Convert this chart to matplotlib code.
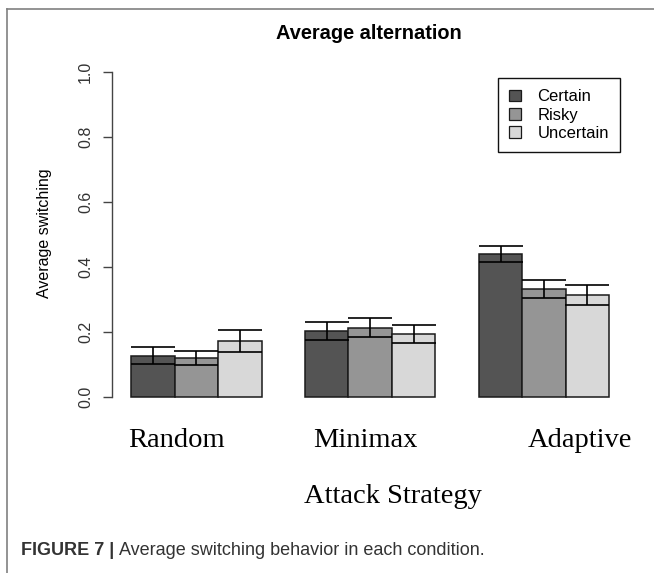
import numpy as np
import matplotlib
matplotlib.use("Agg")
from matplotlib import pyplot as plt
from matplotlib import transforms
from matplotlib.patches import Patch
from matplotlib.lines import Line2D

# data
strategies = ['Random', 'Minimax', 'Adaptive']
conditions = ['Certain', 'Risky', 'Uncertain']
certain = [0.127, 0.203, 0.440]
certain_err = [0.026, 0.028, 0.026]
risky = [0.120, 0.213, 0.332]
risky_err = [0.022, 0.029, 0.028]
uncertain = [0.172, 0.194, 0.314]
uncertain_err = [0.035, 0.029, 0.031]
yticks = [0.0, 0.2, 0.4, 0.6, 0.8, 1.0]

colors = ['#545454', '#959595', '#d8d8d8']
W, H = 654, 573

plt.rcParams['font.family'] = ['Liberation Sans', 'DejaVu Sans']
fig = plt.figure(figsize=(W / 100, H / 100), dpi=100)

def fx(px):
    return px / W

def fy(py):
    return 1 - py / H

# R style barplot region: x 0.56..12.44, y -0.04..1.04
ax = fig.add_axes([fx(112.2), fy(410), fx(628.2) - fx(112.2), fy(59) - fy(410)])
ax.set_xlim(0.56, 12.44)
ax.set_ylim(-0.04, 1.04)

series = [(certain, certain_err), (risky, risky_err), (uncertain, uncertain_err)]
group_start = 1 + 4 * np.arange(len(strategies))
for j, (vals, errs) in enumerate(series):
    left = group_start + j
    ax.bar(left, vals, width=1, align='edge', color=colors[j],
           edgecolor='#1a1a1a', linewidth=1.1, zorder=2)
    ax.errorbar(left + 0.5, vals, yerr=errs, fmt='none', ecolor='#000000',
                elinewidth=1.2, capsize=15.5, capthick=1.2, zorder=3)

for s in ['top', 'right', 'bottom']:
    ax.spines[s].set_visible(False)
ax.spines['left'].set_bounds(0, 1)
ax.spines['left'].set_color('#444444')
ax.spines['left'].set_linewidth(1.0)
ax.set_xticks([])
ax.set_yticks(yticks)
ax.set_yticklabels([f"{t:.1f}" for t in yticks], rotation=90, va='center',
                   fontsize=11.5, color='#333333')
ax.tick_params(axis='y', length=6.8, width=1.0, color='#444444', pad=7)

# category labels (serif, placed like the original)
label_shift = [-0.45, -0.12, 0.83]
lab_trans = transforms.blended_transform_factory(ax.transData, fig.transFigure)
for k, name in enumerate(strategies):
    xc = group_start[k] + 1.5 + label_shift[k]
    ax.text(xc, fy(446.7), name, transform=lab_trans, ha='center',
            va='baseline', fontsize=20.5, family=['Liberation Serif', 'DejaVu Serif'],
            clip_on=False)

fig.text(fx(393), fy(503.3), 'Attack Strategy', ha='center', va='baseline',
         fontsize=20.5, family=['Liberation Serif', 'DejaVu Serif'])
fig.text(fx(45), fy(233), 'Average switching', rotation=90, ha='center',
         va='center', fontsize=11.5)
fig.text(fx(369), fy(39.3), 'Average alternation', ha='center', va='baseline',
         fontsize=14.4, fontweight='bold')

handles = [Patch(facecolor=c, edgecolor='#1a1a1a', linewidth=0.9) for c in colors]
leg = ax.legend(handles, conditions, loc='upper right',
                bbox_to_anchor=(fx(620), fy(78.3)), bbox_transform=fig.transFigure,
                fontsize=12, frameon=True, fancybox=False, framealpha=1,
                edgecolor='#111111', borderpad=0.66, labelspacing=0.2,
                handlelength=0.72, handleheight=0.7, handletextpad=1.0,
                borderaxespad=0)
leg.get_frame().set_linewidth(1.0)

# outer frame of the figure panel
fig.add_artist(Line2D([fx(7), fx(7)], [fy(8.5), 0], color='#808080', lw=1.2))
fig.add_artist(Line2D([fx(7), 1], [fy(8.5), fy(8.5)], color='#808080', lw=1.2))

# caption
cap = fig.text(fx(20.7), fy(555), 'FIGURE 7 |', fontsize=13, fontweight='bold',
               color='#333333', va='baseline')
fig.canvas.draw()
bb = cap.get_window_extent()
fig.text((bb.x1 + 5) / W, fy(555), 'Average switching behavior in each condition.',
         fontsize=13, color='#333333', va='baseline')

fig.savefig('out.png', dpi=100)
